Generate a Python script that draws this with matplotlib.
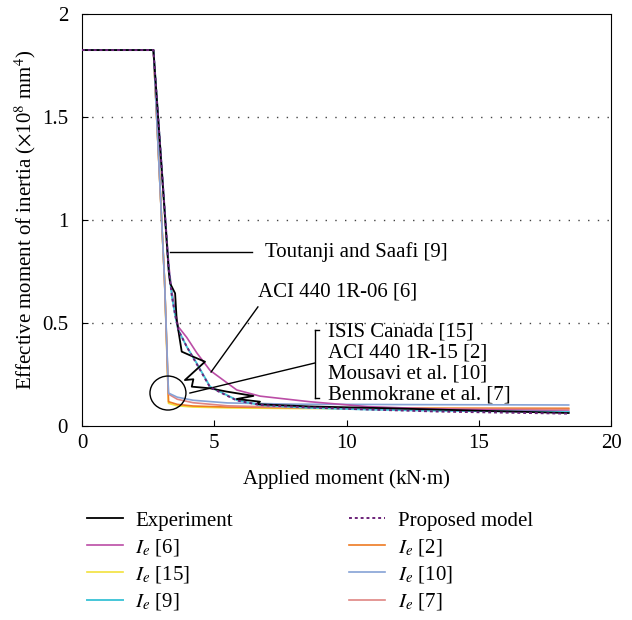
import matplotlib
matplotlib.use('Agg')
import matplotlib.pyplot as plt
from matplotlib.patches import Ellipse

plt.rcParams['font.family'] = ['Liberation Serif', 'DejaVu Serif']
plt.rcParams['mathtext.fontset'] = 'stix'
plt.rcParams['font.size'] = 15

# experiment (zigzags are unloading steps)
m_exp = [0, 2.70, 3.28, 3.33, 3.52, 3.58, 3.77, 4.21, 4.65, 3.89, 4.21, 4.15, 4.84, 5.47,
         6.48, 5.85, 6.73, 6.60, 8.6, 11.6, 14.5, 18.4]
ie_exp = [1.825, 1.825, 0.75, 0.693, 0.644, 0.515, 0.361, 0.336, 0.312, 0.223, 0.227, 0.191,
          0.183, 0.167, 0.146, 0.131, 0.118, 0.106, 0.095, 0.086, 0.076, 0.063]

# smooth predictions
m_smooth = [0, 2.70, 3.28, 3.40, 3.52, 3.64, 3.96, 4.34, 4.84, 5.85, 6.73, 8.6, 10.8, 13.5, 18.4]
ie_6 = [1.825, 1.825, 0.78, 0.65, 0.56, 0.482, 0.43, 0.355, 0.27, 0.175, 0.145, 0.118, 0.094, 0.082, 0.072]
ie_9 = [1.825, 1.825, 0.76, 0.63, 0.54, 0.466, 0.385, 0.304, 0.191, 0.126, 0.102, 0.088, 0.080, 0.074, 0.068]
ie_prop = [1.825, 1.825, 0.76, 0.63, 0.54, 0.466, 0.385, 0.300, 0.188, 0.124, 0.102, 0.090, 0.080, 0.070, 0.060]

# codes that drop to Icr right after cracking
m_low = [0, 2.70, 3.12, 3.27, 3.6, 4.2, 5.5, 8.0, 12.0, 18.4]
ie_15 = [1.825, 1.825, 0.71, 0.11, 0.098, 0.092, 0.088, 0.085, 0.084, 0.083]
ie_2 = [1.825, 1.825, 0.71, 0.118, 0.105, 0.097, 0.092, 0.089, 0.087, 0.086]
ie_10 = [1.825, 1.825, 0.71, 0.16, 0.14, 0.125, 0.112, 0.106, 0.104, 0.102]
ie_7 = [1.825, 1.825, 0.71, 0.155, 0.13, 0.113, 0.098, 0.09, 0.084, 0.080]

fig = plt.figure(figsize=(6.32, 6.2), dpi=100)
ax = fig.add_axes([82 / 632, 1 - 426 / 620, 529 / 632, 412 / 620])

l_exp, = ax.plot(m_exp, ie_exp, color='black', lw=1.3, zorder=6)
l_15, = ax.plot(m_low, ie_15, color='#f2e23c', lw=1.2)
l_2, = ax.plot(m_low, ie_2, color='#ee7a22', lw=1.2)
l_7, = ax.plot(m_low, ie_7, color='#df8583', lw=1.2)
l_10, = ax.plot(m_low, ie_10, color='#85a2d6', lw=1.2)
l_6, = ax.plot(m_smooth, ie_6, color='#bb4da6', lw=1.2)
l_9, = ax.plot(m_smooth, ie_9, color='#45c6d8', lw=1.4)
l_prop, = ax.plot(m_smooth, ie_prop, color='#6c2379', lw=1.4, ls=(0, (1.5, 1.5)), zorder=7)

ax.set_xlim(0, 20)
ax.set_ylim(0, 2)
ax.set_xticks([0, 5, 10, 15, 20])
ax.set_yticks([0, 0.5, 1, 1.5, 2])
ax.set_yticklabels(['0', '0.5', '1', '1.5', '2'])
ax.tick_params(direction='in', length=4, colors='black', labelsize=15)
ax.tick_params(axis='y', pad=10)
ax.tick_params(axis='x', pad=6)
for y in [0.5, 1, 1.5]:
    ax.axhline(y, color='#444444', lw=1, ls=(0, (1, 6)), zorder=0)

ax.set_xlabel('Applied moment (kN$\\cdot$m)', fontsize=15)
ax.set_ylabel('Effective moment of inertia ($\\times$10$^8$ mm$^4$)', fontsize=15)
ax.xaxis.set_label_coords(0.5, -0.10)
ax.yaxis.set_label_coords(-0.083, 0.5)

# annotations
ax.plot([3.33, 6.43], [0.845, 0.845], color='black', lw=1)
ax.text(6.92, 0.845, 'Toutanji and Saafi [9]', va='center', ha='left')
ax.plot([6.65, 4.88], [0.578, 0.262], color='black', lw=1)
ax.text(6.65, 0.65, 'ACI 440 1R-06 [6]', va='center', ha='left')
ax.plot([8.81, 8.81], [0.466, 0.136], color='black', lw=1)
ax.plot([8.81, 8.95], [0.466, 0.466], color='black', lw=1)
ax.plot([8.81, 8.95], [0.136, 0.136], color='black', lw=1)
ax.plot([8.81, 4.08], [0.306, 0.160], color='black', lw=1)
for txt, y in zip(['ISIS Canada [15]', 'ACI 440 1R-15 [2]', 'Mousavi et al. [10]',
                   'Benmokrane et al. [7]'], [0.456, 0.354, 0.252, 0.150]):
    ax.text(9.30, y, txt, va='center', ha='left')
ax.add_patch(Ellipse((3.25, 0.160), 1.36, 0.165, fill=False, color='black', lw=1, zorder=8))

handles = [l_exp, l_6, l_15, l_9, l_prop, l_2, l_10, l_7]
labels = ['Experiment', '$I_e$ [6]', '$I_e$ [15]', '$I_e$ [9]',
          'Proposed model', '$I_e$ [2]', '$I_e$ [10]', '$I_e$ [7]']
fig.legend(handles, labels, loc='upper left', bbox_to_anchor=(87 / 632, 1 - 511 / 620),
           ncol=2, frameon=False, borderpad=0, borderaxespad=0, handlelength=1.73,
           handletextpad=0.58, columnspacing=5.6, labelspacing=0.3, fontsize=15)

fig.savefig('out.png', dpi=100)
